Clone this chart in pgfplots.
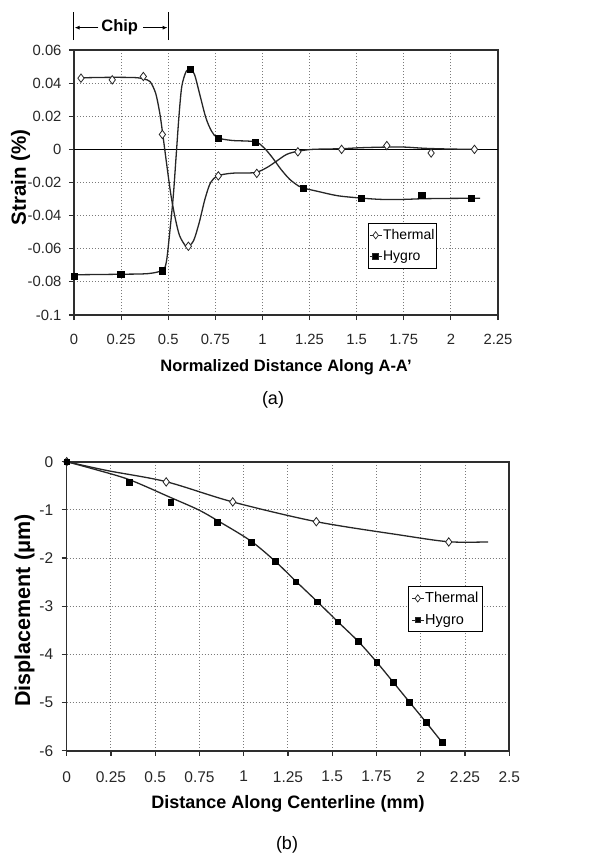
\documentclass[border=0pt]{standalone}
\usepackage{fontspec}
\setmainfont{Liberation Sans}
\usepackage{pgfplots}
\pgfplotsset{compat=1.18}
\usetikzlibrary{arrows.meta}
\definecolor{axgray}{HTML}{2E2E2E}
\definecolor{gridgray}{HTML}{7A7A7A}
\definecolor{curve}{HTML}{262626}
\begin{document}
\begin{tikzpicture}
\useasboundingbox (-74pt,-540pt) rectangle (539pt,315pt);
\pgfplotsset{
  common/.style={
    scale only axis,
    clip=false,
    axis line style={axgray, line width=1.6pt},
    grid=major,
    major grid style={gridgray, line width=1pt, dash pattern=on 1pt off 2pt},
    tick align=outside,
    tick pos=left,
    major tick length=5pt,
    tick style={axgray, line width=1.1pt},
    /pgf/number format/assume math mode=true,
    /pgf/number format/fixed,
    /pgf/number format/precision=2,
    legend cell align=left,
    legend image code/.code={\draw[mark repeat=2,mark phase=2,##1] plot coordinates {(0pt,0pt) (6pt,0pt) (12pt,0pt)};},
  },
  thermline/.style={curve, line width=1.3pt, smooth, no marks},
  hygline/.style={curve, line width=1.3pt, smooth, no marks},
}
% ---------------- (a) ----------------
\begin{axis}[common,
  at={(0pt,0pt)}, anchor=south west,
  width=424pt, height=265pt,
  xmin=0, xmax=2.25, ymin=-0.1, ymax=0.06,
  xtick={0,0.25,0.5,0.75,1,1.25,1.5,1.75,2,2.25},
  ytick={-0.1,-0.08,-0.06,-0.04,-0.02,0,0.02,0.04,0.06},
  ticklabel style={font=\fontsize{14.8}{17}\selectfont, text=black!85},
  xticklabel style={yshift=-11pt},
  yticklabel style={xshift=-4pt},
  xlabel={Normalized Distance Along A-A'},
  ylabel={Strain (\%)},
  xlabel style={font=\bfseries\fontsize{16.5}{19}\selectfont, at={(axis description cs:0.5,-0.198)}, anchor=center},
  ylabel style={font=\bfseries\fontsize{20.5}{23}\selectfont, at={(axis description cs:-0.126,0.519)}, anchor=center, rotate=0},
  legend style={at={(axis description cs:0.693,0.347)}, anchor=north west, draw=black, line width=0.8pt, fill=white,
    font=\fontsize{14}{16}\selectfont, inner xsep=1pt, inner ysep=5pt, row sep=8pt,
    nodes={inner xsep=1pt, inner ysep=1pt}},
]
\draw[black, line width=1pt] (axis cs:0,0) -- (axis cs:2.25,0);
% Thermal curve
\addplot[thermline, forget plot] coordinates {
(0.030,0.0432) (0.20,0.0435) (0.33,0.0433) (0.37,0.0424) (0.403,0.041) (0.433,0.034) (0.455,0.022)
(0.47,0.010) (0.493,-0.010) (0.515,-0.028) (0.538,-0.042) (0.560,-0.052) (0.590,-0.058) (0.607,-0.0585)
(0.635,-0.055) (0.665,-0.044) (0.695,-0.030) (0.725,-0.020) (0.763,-0.016) (0.838,-0.0144) (0.96,-0.0140)
(1.023,-0.011) (1.076,-0.007) (1.129,-0.003) (1.186,-0.0012) (1.265,0) (1.42,0.0004) (1.52,0.001)
(1.66,0.0014) (1.75,0.0014) (1.87,0.0006) (2.0,0.0002) (2.13,0)
};
% Hygro curve
\addplot[hygline, forget plot] coordinates {
(0.0,-0.0757) (0.243,-0.0754) (0.393,-0.0750) (0.468,-0.0730) (0.490,-0.068) (0.510,-0.048) (0.527,-0.028)
(0.542,-0.004) (0.557,0.020) (0.572,0.038) (0.595,0.047) (0.617,0.0484) (0.640,0.045) (0.670,0.032)
(0.700,0.019) (0.730,0.011) (0.762,0.0070) (0.838,0.0054) (0.960,0.0046) (1.008,0.001) (1.053,-0.005)
(1.098,-0.012) (1.144,-0.018) (1.19,-0.022) (1.215,-0.0233) (1.295,-0.0254) (1.40,-0.0280) (1.523,-0.0294)
(1.63,-0.0302) (1.75,-0.0302) (1.85,-0.0298) (2.0,-0.0296) (2.155,-0.0295)
};
% Markers
\addplot[only marks, mark=diamond*, mark size=4.2pt, mark options={fill=white, draw=curve, line width=0.8pt}, forget plot] coordinates {
(0.037,0.043) (0.203,0.042) (0.368,0.044) (0.469,0.009) (0.607,-0.0585) (0.766,-0.016) (0.970,-0.0145)
(1.188,-0.0015) (1.420,0) (1.660,0.0023) (1.895,-0.0022) (2.125,0)
};
\addplot[only marks, mark=square*, mark size=3.1pt, mark options={fill=black, draw=black}, forget plot] coordinates {
(0.0,-0.0765) (0.248,-0.0755) (0.468,-0.0733) (0.617,0.0486) (0.764,0.0068) (0.962,0.0045) (1.216,-0.0235)
(1.525,-0.0296) (1.845,-0.0275) (2.107,-0.0296)
};
\addlegendimage{curve, line width=0.9pt, mark=diamond*, mark size=3.6pt, mark options={fill=white, line width=0.7pt}}
\addlegendentry{Thermal}
\addlegendimage{curve, line width=0.9pt, mark=square*, mark size=2.8pt, mark options={fill=black}}
\addlegendentry{Hygro}
% Chip annotation
\draw[black, line width=1pt] (axis cs:0,0.066) -- (axis cs:0,0.0831);
\draw[black, line width=1pt] (axis cs:0.5,0.066) -- (axis cs:0.5,0.0831);
\node[font=\bfseries\fontsize{16.5}{19}\selectfont, anchor=center] at (axis cs:0.2425,0.0735) {Chip};
\draw[black, line width=1pt, -{Latex[length=5pt,width=4pt]}] (axis cs:0.129,0.0735) -- (axis cs:0.003,0.0735);
\draw[black, line width=1pt, -{Latex[length=5pt,width=4pt]}] (axis cs:0.368,0.0735) -- (axis cs:0.497,0.0735);
\end{axis}
\node[font=\fontsize{18}{20}\selectfont, anchor=center] at (199pt,-85pt) {(a)};
% ---------------- (b) ----------------
\begin{axis}[common,
  at={(-7.3pt,-435.7pt)}, anchor=south west,
  width=442.6pt, height=289pt,
  xmin=0, xmax=2.5, ymin=-6, ymax=0,
  xtick={0,0.25,0.5,0.75,1,1.25,1.5,1.75,2,2.25,2.5},
  ytick={-6,-5,-4,-3,-2,-1,0},
  ticklabel style={font=\fontsize{15.5}{18}\selectfont, text=black!85},
  xticklabel style={yshift=-12pt},
  yticklabel style={xshift=-5pt},
  xlabel={Distance Along Centerline (mm)},
  ylabel={Displacement (μm)},
  xlabel style={font=\bfseries\fontsize{18}{21}\selectfont, at={(axis description cs:0.5,-0.183)}, anchor=center},
  ylabel style={font=\bfseries\fontsize{21.5}{24}\selectfont, at={(axis description cs:-0.095,0.485)}, anchor=center, rotate=0},
  legend style={at={(axis description cs:0.771,0.570)}, anchor=north west, draw=black, line width=0.8pt, fill=white,
    font=\fontsize{14.5}{16}\selectfont, inner xsep=3pt, inner ysep=5pt, row sep=8pt,
    nodes={inner xsep=1pt, inner ysep=1pt}},
]
\addplot[thermline, forget plot] coordinates {
(0,0) (0.232,-0.186) (0.561,-0.414) (0.9375,-0.835) (1.41,-1.245) (1.88,-1.52) (2.158,-1.662) (2.38,-1.665)
};
\addplot[hygline, forget plot] coordinates {
(0,0) (0.152,-0.152) (0.353,-0.372) (0.588,-0.745) (0.745,-1.0) (0.853,-1.225) (1.038,-1.64) (1.177,-2.065)
(1.294,-2.48) (1.414,-2.90) (1.531,-3.32) (1.648,-3.735) (1.751,-4.16) (1.845,-4.58) (1.936,-4.99) (2.03,-5.41) (2.119,-5.82)
};
\addplot[only marks, mark=diamond*, mark size=4.2pt, mark options={fill=white, draw=curve, line width=0.8pt}, forget plot] coordinates {
(0,0) (0.562,-0.42) (0.938,-0.835) (1.41,-1.245) (2.158,-1.666)
};
\addplot[only marks, mark=square*, mark size=2.9pt, mark options={fill=black, draw=black}, forget plot] coordinates {
(0,0) (0.352,-0.42) (0.588,-0.835) (0.852,-1.25) (1.04,-1.666) (1.177,-2.07) (1.294,-2.49) (1.414,-2.905)
(1.531,-3.32) (1.648,-3.734) (1.751,-4.16) (1.845,-4.58) (1.936,-4.99) (2.03,-5.41) (2.119,-5.82)
};
\addlegendimage{curve, line width=0.9pt, mark=diamond*, mark size=3.6pt, mark options={fill=white, line width=0.7pt}}
\addlegendentry{Thermal}
\addlegendimage{curve, line width=0.9pt, mark=square*, mark size=2.8pt, mark options={fill=black}}
\addlegendentry{Hygro}
\end{axis}
\node[font=\fontsize{18}{20}\selectfont, anchor=center] at (213pt,-530pt) {(b)};
\end{tikzpicture}
\end{document}
